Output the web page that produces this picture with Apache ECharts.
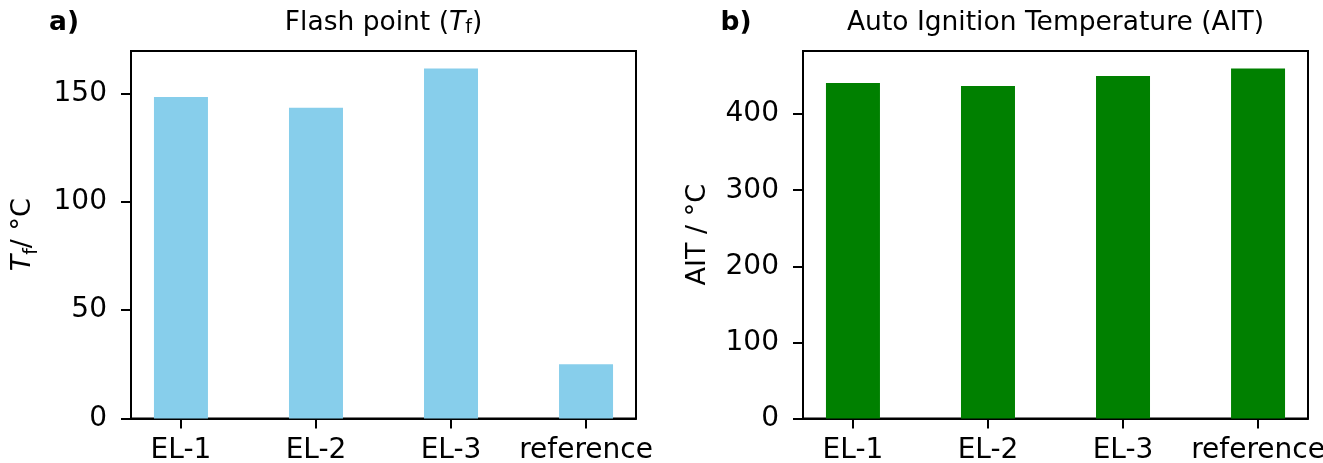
<!DOCTYPE html>
<html>
<head>
<meta charset="utf-8">
<script src="https://cdn.jsdelivr.net/npm/echarts@6/dist/echarts.min.js"></script>
<style>
  html, body { margin: 0; padding: 0; background: #fff; }
  #main { width: 1323px; height: 463px; }
</style>
</head>
<body>
<div id="main"></div>
<script>
// data
var categories = ['EL-1', 'EL-2', 'EL-3', 'reference'];
var flashPoint = [148.4, 143.4, 161.5, 25];      // °C
var autoIgnition = [441, 437, 450, 460];         // °C
var flashTicks = [0, 50, 100, 150];
var aitTicks = [0, 100, 200, 300, 400];
var catTicks = [0, 1, 2, 3];

var FONT = 'DejaVu Sans';
var chart = echarts.init(document.getElementById('main'));

function toPairs(vals) {
    return vals.map(function (v, i) { return [i, v]; });
}

function xAxisFor(gridIndex) {
    return {
        type: 'value',
        gridIndex: gridIndex,
        min: -0.37,
        max: 3.37,
        splitLine: { show: false },
        axisLine: { show: true, onZero: false, lineStyle: { color: '#000', width: 2 } },
        axisTick: { show: true, customValues: catTicks, length: 10, lineStyle: { color: '#000', width: 2 } },
        axisLabel: {
            customValues: catTicks,
            margin: 18,
            color: '#000',
            fontFamily: FONT,
            fontSize: 28,
            formatter: function (v) { return categories[Math.round(v)]; }
        }
    };
}

function yAxisFor(gridIndex, max, ticks, name, nameGap) {
    return {
        type: 'value',
        gridIndex: gridIndex,
        min: 0,
        max: max,
        name: name,
        nameLocation: 'middle',
        nameRotate: 90,
        nameGap: nameGap,
        nameTextStyle: {
            color: '#000',
            fontFamily: FONT,
            fontSize: 27,
            rich: {
                it: { fontFamily: FONT, fontSize: 27, fontStyle: 'italic', color: '#000', lineHeight: 38, verticalAlign: 'middle' },
                sub: { fontFamily: FONT, fontSize: 19, color: '#000', lineHeight: 19, verticalAlign: 'bottom' },
                n: { fontFamily: FONT, fontSize: 27, color: '#000', lineHeight: 38, verticalAlign: 'middle' }
            }
        },
        splitLine: { show: false },
        axisLine: { show: true, onZero: false, lineStyle: { color: '#000', width: 2 } },
        axisTick: { show: true, customValues: ticks, length: 10, lineStyle: { color: '#000', width: 2 } },
        axisLabel: {
            customValues: ticks,
            margin: 24,
            color: '#000',
            fontFamily: FONT,
            fontSize: 28
        }
    };
}

var titleRich = {
    n: { fontFamily: FONT, fontSize: 26.5, color: '#000' },
    it: { fontFamily: FONT, fontSize: 26.5, fontStyle: 'italic', color: '#000' },
    sub: { fontFamily: FONT, fontSize: 19, color: '#000', padding: [10, 0, 0, 0] }
};

var option = {
    backgroundColor: '#fff',
    animation: false,
    grid: [
        { left: 131, top: 51, width: 505, height: 367.5, outerBoundsMode: 'none', containLabel: false, show: true, borderColor: '#000', borderWidth: 2, backgroundColor: 'transparent' },
        { left: 803, top: 51, width: 505, height: 367.5, outerBoundsMode: 'none', containLabel: false, show: true, borderColor: '#000', borderWidth: 2, backgroundColor: 'transparent' }
    ],
    xAxis: [xAxisFor(0), xAxisFor(1)],
    yAxis: [
        yAxisFor(0, 169.6, flashTicks, '{it|T}{sub|f}{n|/ °C}', 89),
        yAxisFor(1, 483, aitTicks, 'AIT / °C', 92)
    ],
    graphic: [
        { type: 'text', x: 64, y: 23, style: { text: 'a)', font: 'bold 26.5px "DejaVu Sans"', fill: '#000', align: 'center', verticalAlign: 'middle' } },
        { type: 'text', x: 736, y: 23, style: { text: 'b)', font: 'bold 26.5px "DejaVu Sans"', fill: '#000', align: 'center', verticalAlign: 'middle' } },
        { type: 'text', x: 383.5, y: 23, style: { text: '{n|Flash point (}{it|T}{sub|f}{n|)}', rich: titleRich, align: 'center', verticalAlign: 'middle' } },
        { type: 'text', x: 1055.5, y: 23, style: { text: 'Auto Ignition Temperature (AIT)', font: '26.5px "DejaVu Sans"', fill: '#000', align: 'center', verticalAlign: 'middle' } }
    ],
    series: [
        {
            type: 'bar',
            xAxisIndex: 0,
            yAxisIndex: 0,
            barWidth: 54,
            itemStyle: { color: '#87CEEB' },
            data: toPairs(flashPoint)
        },
        {
            type: 'bar',
            xAxisIndex: 1,
            yAxisIndex: 1,
            barWidth: 54,
            itemStyle: { color: '#008000' },
            data: toPairs(autoIgnition)
        }
    ]
};

chart.setOption(option);
</script>
</body>
</html>
